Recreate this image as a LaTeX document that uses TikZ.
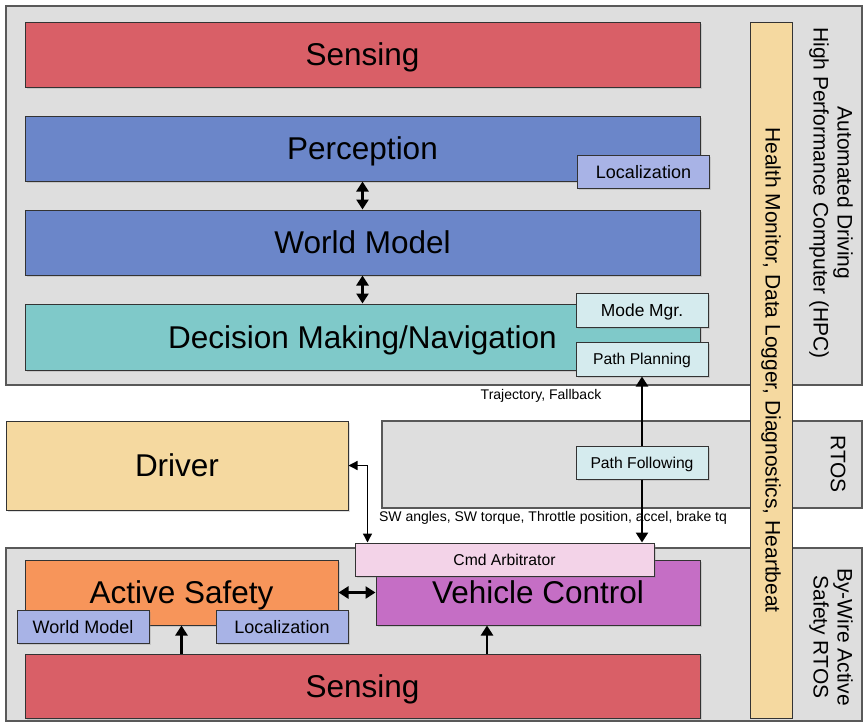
\documentclass[tikz,border=0pt]{standalone}
\usepackage{fontspec}
\setmainfont{Liberation Sans}
\usepackage{xcolor}
\usetikzlibrary{arrows.meta, positioning, calc, shadows}
\definecolor{senseRed}{RGB}{217, 95, 103}
\definecolor{perBlue}{RGB}{107, 134, 201}
\definecolor{locBlue}{RGB}{168, 179, 230}
\definecolor{navTeal}{RGB}{127, 201, 201}
\definecolor{subCyan}{RGB}{213, 235, 238}
\definecolor{hmTan}{RGB}{245, 217, 160}
\definecolor{asOrange}{RGB}{247, 149, 90}
\definecolor{vcPurple}{RGB}{197, 110, 197}
\definecolor{arbPink}{RGB}{243, 211, 232}
\definecolor{layerGray}{RGB}{222, 222, 222}
\tikzset{
  layer/.style={draw=black!65, line width=1.2pt, fill=layerGray},
  block/.style={rectangle, draw=black!80, line width=1pt, fill=#1,
                minimum width=675pt, minimum height=65pt, inner sep=0pt,
                text height=22.5pt, text depth=0pt,
                font=\fontsize{31.5}{36}\selectfont,
                drop shadow={shadow xshift=1.5pt, shadow yshift=-1.5pt, opacity=0.25}},
  block/.default=perBlue,
  sblock/.style={rectangle, draw=black!80, line width=1pt, fill=#1,
                 minimum width=132pt, minimum height=33pt, inner sep=0pt,
                 text height=13pt, text depth=0pt,
                 font=\fontsize{18}{21}\selectfont,
                 drop shadow={shadow xshift=1.5pt, shadow yshift=-1.5pt, opacity=0.25}},
  sblock/.default=locBlue,
  small/.style={text height=11.5pt, font=\fontsize{15.7}{18}\selectfont},
  sidelabel/.style={rotate=-90, align=center, font=\fontsize{21}{24}\selectfont},
  flowlabel/.style={font=\fontsize{14}{16}\selectfont, inner sep=1pt},
  arrow/.style={{Triangle[length=10pt, width=12pt]}-{Triangle[length=10pt, width=12pt]}, line width=2.5pt},
  uparrow/.style={-{Triangle[length=10pt, width=12pt]}, line width=2.5pt},
  sarrow/.style={{Triangle[length=9pt, width=9pt]}-{Triangle[length=9pt, width=9pt]}, line width=1.3pt},
}

\begin{document}
\begin{tikzpicture}[x=1pt, y=-1pt]
  \useasboundingbox (0,0) rectangle (864,723);
  % layers
  \draw[layer] (6,6) rectangle (862,385);
  \draw[layer] (382,421) rectangle (862,508);
  \draw[layer] (6,548) rectangle (862,721);

  % automated driving HPC
  \node[block=senseRed] (senseTop) at (362.5,54.5) {Sensing};
  \node[block] (percept) at (362.5,148.5) {Perception};
  \node[sblock] (locTop) at (643.5,171.5) {Localization};
  \node[block] (world) at (362.5,242.5) {World Model};
  \node[block=navTeal, minimum height=66pt] (decision) at (362.5,337) {Decision Making/Navigation};
  \node[sblock=subCyan, minimum height=34pt, text height=12.5pt, font=\fontsize{17.4}{20}\selectfont] (modeMgr) at (642,310) {Mode Mgr.};
  \node[sblock=subCyan, small, minimum height=34pt] (pathPlan) at (642,359) {Path Planning};

  % RTOS
  \node[block=hmTan, minimum width=342pt, minimum height=89pt] (driver) at (177,465.5) {Driver};
  \node[sblock=subCyan, small] (pathFollow) at (642,462.5) {Path Following};

  % by-wire active safety RTOS
  \node[block=asOrange, minimum width=313pt] (active) at (181.5,592.5) {Active Safety};
  \node[block=vcPurple, minimum width=324pt] (vehicle) at (538,592.5) {Vehicle Control};
  \node[sblock=arbPink, small, minimum width=299pt] (cmdArb) at (504.5,559.5) {Cmd Arbitrator};
  \node[sblock] (wmSmall) at (83,626.5) {World Model};
  \node[sblock] (locSmall) at (282,626.5) {Localization};
  \node[block=senseRed, minimum height=64pt] (senseBot) at (362.5,686) {Sensing};

  % health monitor bar
  \node[rectangle, draw=black!80, line width=1pt, fill=hmTan, minimum width=42pt,
        minimum height=696pt, inner sep=0pt] (health) at (771,370) {};
  \node[sidelabel] at (health.center) {Health Monitor, Data Logger, Diagnostics, Heartbeat};

  % side labels
  \node[sidelabel] (hpcLabel) at (831,193) {Automated Driving\\High Performance Computer (HPC)};
  \node[sidelabel] (rtosLabel) at (838,464) {RTOS};
  \node[sidelabel] (bywireLabel) at (831,637) {By-Wire Active\\Safety RTOS};

  % flow labels
  \node[flowlabel] (trajLabel) at (541,396) {Trajectory, Fallback};
  \node[flowlabel] (swLabel) at (553,518) {SW angles, SW torque, Throttle position, accel, brake tq};

  % connectors
  \draw[arrow] (percept.south) -- (world.north);
  \draw[arrow] (world.south) -- (decision.north);
  \draw[uparrow] (pathFollow.north) -- (pathPlan.south);
  \draw[uparrow] (pathFollow.south) -- (cmdArb.north -| pathFollow.south);
  \draw[sarrow] (driver.east) -| ([xshift=13pt]cmdArb.north west);
  \draw[arrow] (active.east) -- (vehicle.west);
  \draw[uparrow] (active.south |- senseBot.north) -- (active.south);
  \draw[uparrow] ([xshift=-51pt]vehicle.south |- senseBot.north) -- ([xshift=-51pt]vehicle.south);
\end{tikzpicture}
\end{document}
